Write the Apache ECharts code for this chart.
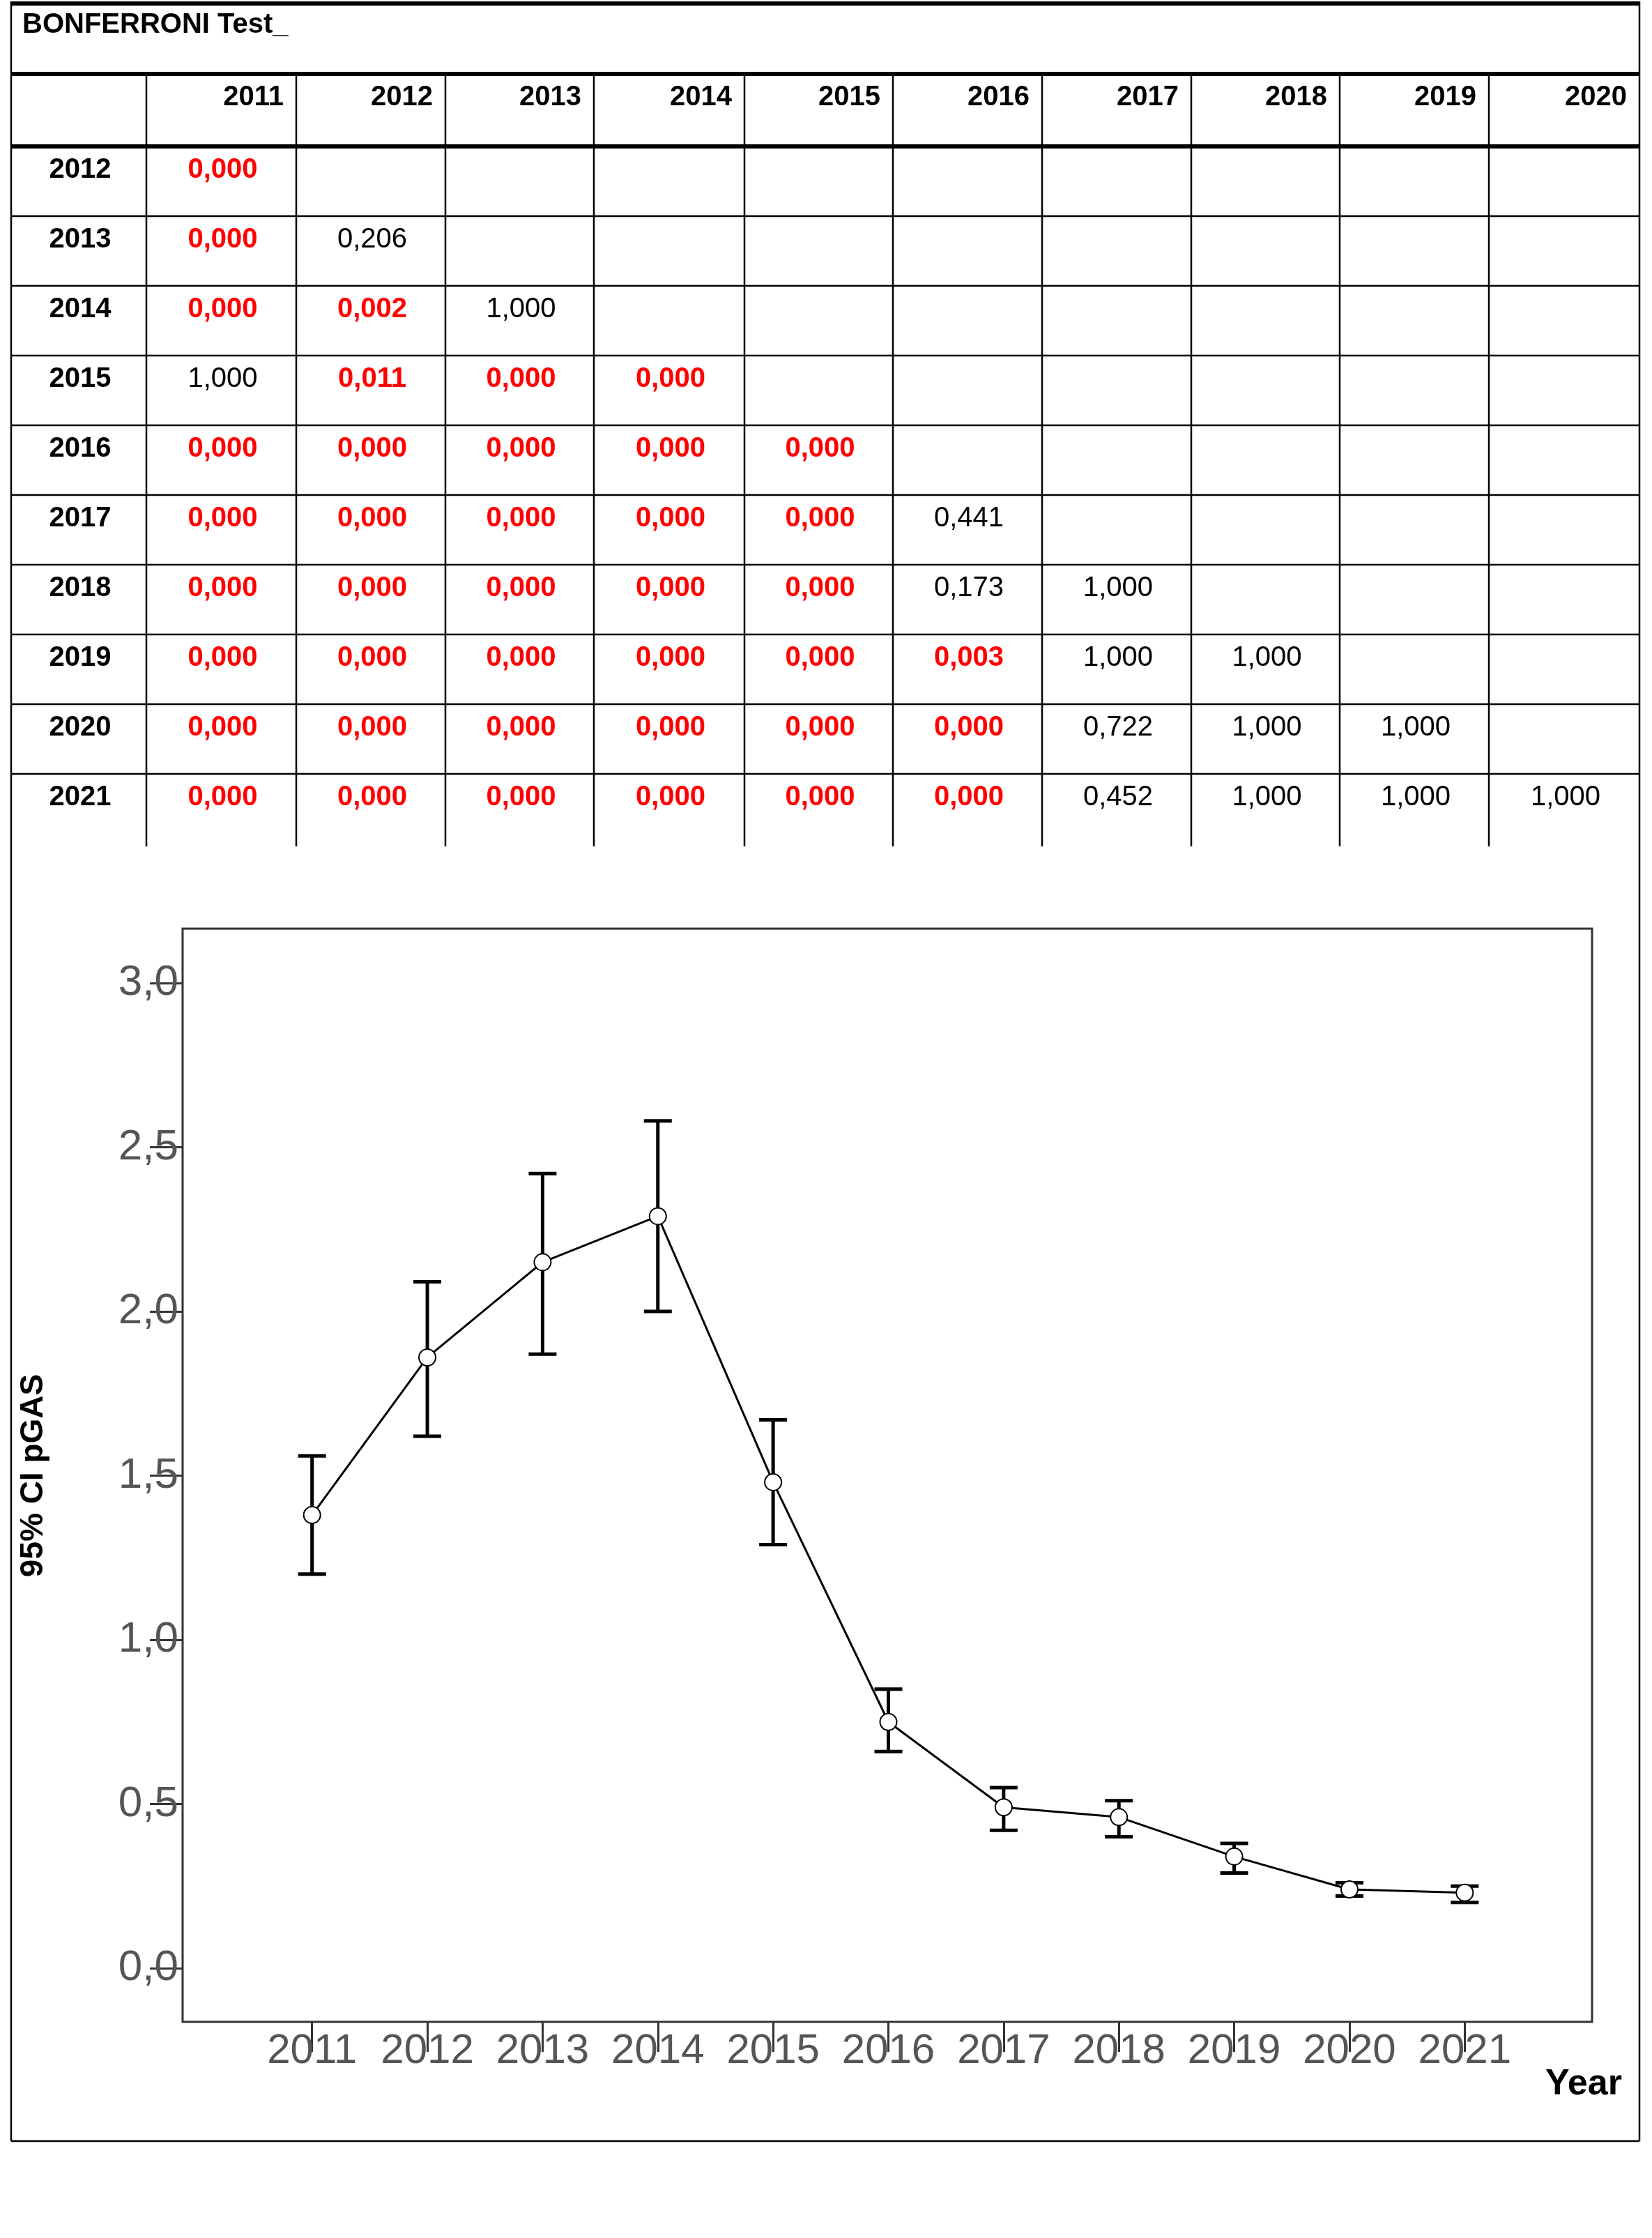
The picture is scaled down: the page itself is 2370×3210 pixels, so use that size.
<!DOCTYPE html>
<html>
<head>
<meta charset="utf-8">
<script src="https://cdn.jsdelivr.net/npm/echarts@6/dist/echarts.min.js"></script>
<style>html,body{margin:0;padding:0;background:#fff}#main{width:2370px;height:3210px}</style>
</head>
<body>
<div id="main"></div>
<script>
// --- data ---
var years = ['2011','2012','2013','2014','2015','2016','2017','2018','2019','2020','2021'];
var meanVals  = [1.38, 1.86, 2.15, 2.29, 1.48, 0.75, 0.49, 0.46, 0.34, 0.24, 0.23];
var upperVals = [1.56, 2.09, 2.42, 2.58, 1.67, 0.85, 0.55, 0.51, 0.38, 0.26, 0.25];
var lowerVals = [1.20, 1.62, 1.87, 2.00, 1.29, 0.66, 0.42, 0.40, 0.29, 0.22, 0.20];
var yTicks = ['0,0','0,5','1,0','1,5','2,0','2,5','3,0'];

var colHeads = ['2011','2012','2013','2014','2015','2016','2017','2018','2019','2020'];
var rowHeads = ['2012','2013','2014','2015','2016','2017','2018','2019','2020','2021'];
var pRows = [
    ['0,000'],
    ['0,000','0,206'],
    ['0,000','0,002','1,000'],
    ['1,000','0,011','0,000','0,000'],
    ['0,000','0,000','0,000','0,000','0,000'],
    ['0,000','0,000','0,000','0,000','0,000','0,441'],
    ['0,000','0,000','0,000','0,000','0,000','0,173','1,000'],
    ['0,000','0,000','0,000','0,000','0,000','0,003','1,000','1,000'],
    ['0,000','0,000','0,000','0,000','0,000','0,000','0,722','1,000','1,000'],
    ['0,000','0,000','0,000','0,000','0,000','0,000','0,452','1,000','1,000','1,000']
];

// --- table layout ---
var colX = [16, 210, 425, 639, 852, 1068, 1281, 1495, 1709, 1922, 2136, 2352];
var tableFont = '"Liberation Sans Narrow","Liberation Sans",sans-serif';
var g = [];
function line(x1, y1, x2, y2, w) {
    g.push({type:'line', shape:{x1:x1,y1:y1,x2:x2,y2:y2}, style:{stroke:'#000', lineWidth:w}});
}
function txt(x, y, s, opt) {
    g.push({type:'text', x:x, y:y, style:{text:s, font:(opt.bold?'bold ':'')+(opt.size||40)+'px '+tableFont,
        fill:opt.color||'#000', align:opt.align||'center', verticalAlign:'middle'}});
}
line(16, 5, 2352, 5, 6);
line(16, 106, 2352, 106, 6);
line(16, 210, 2352, 210, 6);
for (var r = 1; r < 10; r++) line(16, 210 + r * 100, 2352, 210 + r * 100, 2.5);
line(16, 2, 16, 3071, 2.5);
line(2352, 2, 2352, 3071, 2.5);
line(16, 3071, 2352, 3071, 2.5);
for (var c = 1; c < 11; c++) line(colX[c], 106, colX[c], 1214, 2.5);
txt(32, 36, 'BONFERRONI Test_', {bold:true, align:'left'});
colHeads.forEach(function(h, i){ txt(colX[i+2] - 18, 140, h, {bold:true, align:'right'}); });
rowHeads.forEach(function(h, i){
    var yy = 244 + i * 100;
    txt((colX[0] + colX[1]) / 2 + 2, yy, h, {bold:true});
    pRows[i].forEach(function(v, j){
        var sig = parseFloat(v.replace(',', '.')) < 0.05;
        txt((colX[j+1] + colX[j+2]) / 2 + 2, yy, v, {bold:sig, color:sig ? '#ff0000' : '#000'});
    });
});
// chart frame + axis title
g.push({type:'rect', shape:{x:262, y:1332, width:2022, height:1568}, style:{fill:'none', stroke:'#333', lineWidth:3}});
g.push({type:'text', x:2272, y:2990, style:{text:'Year', font:'bold 52px "Liberation Sans"', fill:'#000', align:'center', verticalAlign:'middle'}});

// --- chart ---
var chart = echarts.init(document.getElementById('main'));
var option = {
    backgroundColor: '#fff',
    animation: false,
    graphic: g,
    grid: [
        {left:365, width:1819, top:1410, height:1413},
        {left:365, width:1819, top:2890, height:10}
    ],
    xAxis: [{
        type: 'category', gridIndex: 0, data: years, show: false
    }, {
        type: 'category', gridIndex: 1, data: years,
        axisLine: {show:false},
        axisTick: {show:true, alignWithLabel:true, length:43, lineStyle:{color:'#333', width:3}},
        axisLabel: {fontSize:60, color:'#555', fontFamily:'Liberation Sans Narrow, Liberation Sans', interval:0, margin:12}
    }],
    yAxis: [{
        type: 'value', gridIndex: 0,
        min: 0, max: 3, interval: 0.5,
        axisLine: {show:false},
        offset: 103,
        axisTick: {show:true, inside:false, length:47, lineStyle:{color:'#333', width:3}},
        splitLine: {show:false},
        axisLabel: {fontSize:62, color:'#555', fontFamily:'Liberation Sans Narrow, Liberation Sans', margin:6,
            formatter: function(v){ return yTicks[Math.round(v * 2)]; }},
        name: '95% CI pGAS',
        nameLocation: 'middle',
        nameGap: 191,
        nameTextStyle: {fontSize:46, fontWeight:'bold', color:'#000', fontFamily:'Liberation Sans'}
    }, {
        type: 'value', gridIndex: 1, show: false
    }],
    series: [{
        type: 'custom',
        data: years.map(function(y, i){ return [i, lowerVals[i], upperVals[i]]; }),
        renderItem: function(params, api) {
            var lo = api.coord([api.value(0), api.value(1)]);
            var hi = api.coord([api.value(0), api.value(2)]);
            var hw = 20, st = {stroke:'#000', lineWidth:5};
            return {type:'group', children:[
                {type:'line', shape:{x1:lo[0], y1:lo[1], x2:hi[0], y2:hi[1]}, style:st},
                {type:'line', shape:{x1:lo[0]-hw, y1:lo[1], x2:lo[0]+hw, y2:lo[1]}, style:st},
                {type:'line', shape:{x1:hi[0]-hw, y1:hi[1], x2:hi[0]+hw, y2:hi[1]}, style:st}
            ]};
        },
        z: 2
    }, {
        type: 'line',
        data: meanVals,
        symbol: 'emptyCircle',
        symbolSize: 24,
        lineStyle: {color:'#000', width:3},
        itemStyle: {color:'#000', borderWidth:3, borderColor:'#000'},
        z: 3
    }]
};
chart.setOption(option);
</script>
</body>
</html>
